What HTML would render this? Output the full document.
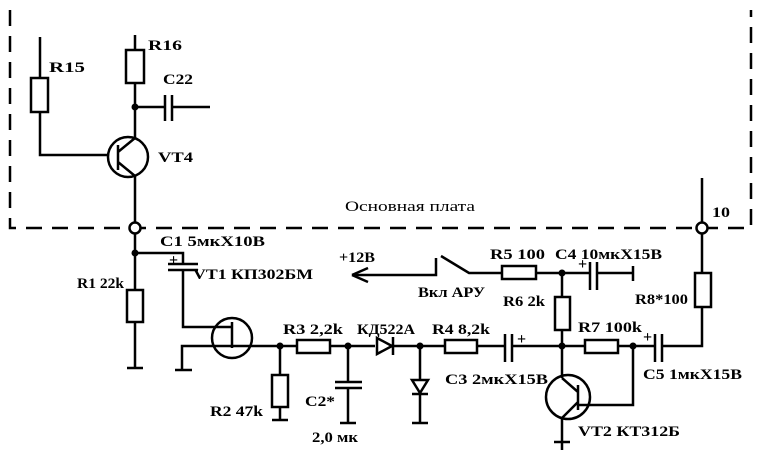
<!DOCTYPE html>
<html><head><meta charset="utf-8"><style>
html,body{margin:0;padding:0;background:#fff}
svg{display:block}
text{font-family:"Liberation Serif","DejaVu Serif",serif;font-weight:bold;font-size:15px;fill:#000}
</style></head><body>
<svg width="760" height="450" viewBox="0 0 760 450" xmlns="http://www.w3.org/2000/svg">
<g stroke="#000" stroke-width="2.5" fill="none">
<path d="M10 10 V228 H751 V10" stroke-dasharray="16,10"/>
<path d="M40 37 V78 M40 112 V155 H108"/>
<rect x="31" y="78" width="17" height="34"/>
<path d="M135 35 V50 M135 83 V138"/>
<rect x="126" y="50" width="18" height="33"/>
<path d="M135 107 H165 M172 107 H210 M165 95 V121 M172 95 V121"/>
<circle cx="128" cy="157" r="20"/>
<path d="M118 145 V170 M118 152 L135 138 M118 162 L135 176 V222"/>
<circle cx="135" cy="228" r="5.5" fill="#fff"/>
<path d="M135 234 V290 M135 322 V368 M127 368 H143"/>
<rect x="127" y="290" width="16" height="32"/>
<path d="M135 253 H183 V264 M168 264 H198 M168 270 H198 M183 270 V327 H232 M232 322 V348"/>
<circle cx="232" cy="338" r="20"/>
<path d="M182 370 V346 H297 M175 370 H192"/>
<path d="M280 346 V375 M280 407 V420 M272 420 H288"/>
<rect x="272" y="375" width="16" height="32"/>
<rect x="297" y="340" width="33" height="13"/>
<path d="M330 346 H375 M392 346 H445"/>
<path d="M348 346 V382 M335 382 H362 M335 388 H362 M348 388 V423 M340 423 H356"/>
<path d="M377 338 V354 L392 346 Z M393 337 V355"/>
<path d="M420 346 V380 M412 380 L428 380 L420 393 Z M412 394 H428 M420 394 V423 M412 423 H428"/>
<rect x="445" y="340" width="32" height="13"/>
<path d="M477 346 H505 M512 346 H585 M505 334 V362 M512 334 V362"/>
<path d="M352 275 H436 V258 M441 256 L469 273 H502"/>
<path d="M352 275 L368 268 M352 275 L368 282"/>
<rect x="502" y="266" width="34" height="13"/>
<path d="M536 273 H590 M597 273 H633 M590 262 V290 M597 262 V290 M633 266 V281"/>
<path d="M562 273 V297 M562 330 V378"/>
<rect x="555" y="297" width="15" height="33"/>
<rect x="585" y="340" width="33" height="13"/>
<path d="M618 346 H655 M662 346 H702 V307 M655 334 V362 M662 334 V362 M633 346 V405 H578"/>
<circle cx="568" cy="397" r="22"/>
<path d="M578 385 V410 M578 392 L562 378 M578 402 L562 418 V450 M554 442 H570"/>
<rect x="695" y="273" width="16" height="34"/>
<path d="M702 273 V234 M702 222 V178"/>
<circle cx="702" cy="228" r="5.5" fill="#fff"/>
</g>
<g fill="#000">
<circle cx="135" cy="107" r="3.5"/><circle cx="135" cy="253" r="3.5"/>
<circle cx="280" cy="346" r="3.5"/><circle cx="348" cy="346" r="3.5"/>
<circle cx="420" cy="346" r="3.5"/><circle cx="562" cy="346" r="3.5"/>
<circle cx="562" cy="273" r="3.5"/><circle cx="633" cy="346" r="3.5"/>
</g>
<g>
<text x="49" y="72" textLength="36" lengthAdjust="spacingAndGlyphs">R15</text>
<text x="148" y="50" textLength="34" lengthAdjust="spacingAndGlyphs">R16</text>
<text x="163" y="84" textLength="30" lengthAdjust="spacingAndGlyphs">C22</text>
<text x="158" y="162" textLength="35" lengthAdjust="spacingAndGlyphs">VT4</text>
<text x="345" y="211" textLength="130" lengthAdjust="spacingAndGlyphs" style="font-weight:normal">Основная плата</text>
<text x="712" y="217" textLength="18" lengthAdjust="spacingAndGlyphs">10</text>
<text x="160" y="246" textLength="105" lengthAdjust="spacingAndGlyphs">C1 5мкX10В</text>
<text x="77" y="288" textLength="47" lengthAdjust="spacingAndGlyphs">R1 22k</text>
<text x="193" y="279" textLength="120" lengthAdjust="spacingAndGlyphs">VT1 КП302БМ</text>
<text x="283" y="334" textLength="60" lengthAdjust="spacingAndGlyphs">R3 2,2k</text>
<text x="357" y="334" textLength="58" lengthAdjust="spacingAndGlyphs">КД522А</text>
<text x="432" y="334" textLength="58" lengthAdjust="spacingAndGlyphs">R4 8,2k</text>
<text x="210" y="416" textLength="53" lengthAdjust="spacingAndGlyphs">R2 47k</text>
<text x="305" y="406" textLength="30" lengthAdjust="spacingAndGlyphs">C2*</text>
<text x="312" y="442" textLength="46" lengthAdjust="spacingAndGlyphs">2,0 мк</text>
<text x="339" y="262" textLength="36" lengthAdjust="spacingAndGlyphs">+12В</text>
<text x="418" y="297" textLength="67" lengthAdjust="spacingAndGlyphs">Вкл АРУ</text>
<text x="490" y="259" textLength="55" lengthAdjust="spacingAndGlyphs">R5 100</text>
<text x="555" y="259" textLength="107" lengthAdjust="spacingAndGlyphs">C4 10мкX15В</text>
<text x="503" y="306" textLength="42" lengthAdjust="spacingAndGlyphs">R6 2k</text>
<text x="578" y="332" textLength="64" lengthAdjust="spacingAndGlyphs">R7 100k</text>
<text x="635" y="304" textLength="53" lengthAdjust="spacingAndGlyphs">R8*100</text>
<text x="445" y="384" textLength="103" lengthAdjust="spacingAndGlyphs">C3 2мкX15В</text>
<text x="643" y="379" textLength="99" lengthAdjust="spacingAndGlyphs">C5 1мкX15В</text>
<text x="578" y="436" textLength="102" lengthAdjust="spacingAndGlyphs">VT2 КТ312Б</text>
</g>
<text x="169" y="265" style="font-size:16px">+</text>
<text x="578" y="269" style="font-size:16px">+</text>
<text x="517" y="344" style="font-size:16px">+</text>
<text x="643" y="342" style="font-size:16px">+</text>
</svg>
</body></html>
